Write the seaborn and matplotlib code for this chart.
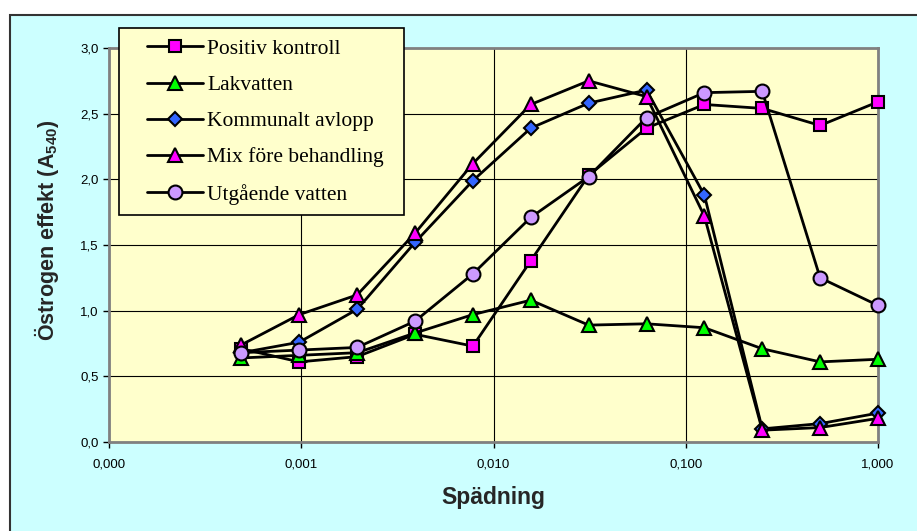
"""Östrogen effekt vs spädning, recreated with seaborn."""

import matplotlib

matplotlib.use("Agg")

import matplotlib.pyplot as plt
import numpy as np
import pandas as pd
import seaborn as sns
from matplotlib.legend_handler import HandlerLine2D
from matplotlib.lines import Line2D
from matplotlib.patches import Rectangle
from matplotlib.ticker import FixedLocator, FuncFormatter, NullLocator

# dilution steps 1/2048 ... 1
dilution = [1 / 2048, 1 / 1024, 1 / 512, 1 / 256, 1 / 128, 1 / 64,
            1 / 32, 1 / 16, 1 / 8, 1 / 4, 1 / 2, 1]

positiv_kontroll = [0.71, 0.61, 0.65, 0.82, 0.73, 1.38, 2.03, 2.39, 2.57, 2.54, 2.41, 2.59]
lakvatten = [0.64, 0.66, 0.68, 0.83, 0.97, 1.08, 0.89, 0.90, 0.87, 0.71, 0.61, 0.63]
kommunalt_avlopp = [0.68, 0.76, 1.01, 1.52, 1.99, 2.39, 2.58, 2.68, 1.88, 0.10, 0.14, 0.22]
mix_fore = [0.74, 0.97, 1.12, 1.59, 2.12, 2.57, 2.75, 2.63, 1.72, 0.09, 0.11, 0.18]
utgaende_vatten = [0.68, 0.70, 0.72, 0.92, 1.28, 1.71, 2.02, 2.47, 2.66, 2.67, 1.25, 1.04]

series_names = ["Positiv kontroll", "Lakvatten", "Kommunalt avlopp",
                "Mix före behandling", "Utgående vatten"]
series_values = [positiv_kontroll, lakvatten, kommunalt_avlopp, mix_fore, utgaende_vatten]

styles = {
    "Positiv kontroll": dict(marker="s", markerfacecolor="#FF00FF", markersize=9),
    "Lakvatten": dict(marker="^", markerfacecolor="#00FF00", markersize=10),
    "Kommunalt avlopp": dict(marker="D", markerfacecolor="#3366FF", markersize=7),
    "Mix före behandling": dict(marker="^", markerfacecolor="#FF00FF", markersize=10),
    "Utgående vatten": dict(marker="o", markerfacecolor="#CC99FF", markersize=10),
}

df = pd.DataFrame(
    [(name, x, y) for name, vals in zip(series_names, series_values)
     for x, y in zip(dilution, vals)],
    columns=["serie", "spadning", "effekt"],
)

sns.set_theme(style="white")
plt.rcParams["font.family"] = ["Liberation Sans", "DejaVu Sans"]
plt.rcParams["mathtext.fontset"] = "custom"
plt.rcParams["mathtext.bf"] = "Liberation Sans:bold"
plt.rcParams["mathtext.rm"] = "Liberation Sans:bold"

fig = plt.figure(figsize=(9.17, 5.31), dpi=100)
fig.patch.set_facecolor("white")

# outer chart frame (cyan), cut by the right and bottom image edges
fig.patches.append(Rectangle((10 / 917, -0.05), 1.0, 1 - 15 / 531 + 0.05,
                             transform=fig.transFigure, facecolor="#CCFFFF",
                             edgecolor="#333333", linewidth=1.5, zorder=-1))

ax = fig.add_axes([109 / 917, 1 - 442 / 531, (878 - 109) / 917, (442 - 48) / 531])
ax.set_facecolor("#FFFFCC")

for name in series_names:
    sub = df[df["serie"] == name]
    sns.lineplot(data=sub, x="spadning", y="effekt", ax=ax, color="black",
                 linewidth=2, markeredgecolor="black", markeredgewidth=1.5,
                 label=name, sort=False, zorder=3, clip_on=False, **styles[name])

ax.set_xscale("log")
ax.set_xlim(1e-4, 1)
ax.set_ylim(0, 3)

ax.xaxis.set_major_locator(FixedLocator([1e-4, 1e-3, 1e-2, 1e-1, 1]))
ax.xaxis.set_minor_locator(NullLocator())
ax.set_yticks(np.arange(0, 3.01, 0.5))
ax.xaxis.set_major_formatter(FuncFormatter(lambda v, p: f"{v:.3f}".replace(".", ",")))
ax.yaxis.set_major_formatter(FuncFormatter(lambda v, p: f"{v:.1f}".replace(".", ",")))

ax.grid(True, which="major", color="black", linewidth=0.8)
ax.set_axisbelow(True)
for s in ax.spines.values():
    s.set_color("#808080")
    s.set_linewidth(2)

ax.tick_params(axis="both", which="major", direction="out", length=4, width=1,
               color="black", labelsize=9.5, labelcolor="black",
               left=True, bottom=True)
ax.tick_params(axis="x", pad=8)

ax.set_xlabel("Spädning", fontsize=16.5, fontweight="bold", labelpad=11)
ax.set_ylabel(r"Östrogen effekt ($\mathbf{A_{540}}$)", fontsize=15.5,
              fontweight="bold")
ax.yaxis.set_label_coords(-0.063, 0.538)

handles, labels = ax.get_legend_handles_labels()
leg = ax.legend(handles, labels, loc="upper left",
                bbox_to_anchor=(119 / 917, 1 - 209 / 531, 285 / 917, 181 / 531),
                bbox_transform=fig.transFigure, mode="expand",
                frameon=True, fancybox=False,
                facecolor="#FFFFCC", edgecolor="black", framealpha=1,
                prop={"family": "Liberation Serif", "size": 15.5},
                handlelength=3.4, handletextpad=0.2, labelspacing=0.75,
                borderpad=0.5, borderaxespad=0,
                handler_map={Line2D: HandlerLine2D(xpad=0.8)})
leg.get_frame().set_linewidth(1.2)
for t in leg.get_texts():
    t.set_color("black")

fig.savefig("out.png", dpi=100)
